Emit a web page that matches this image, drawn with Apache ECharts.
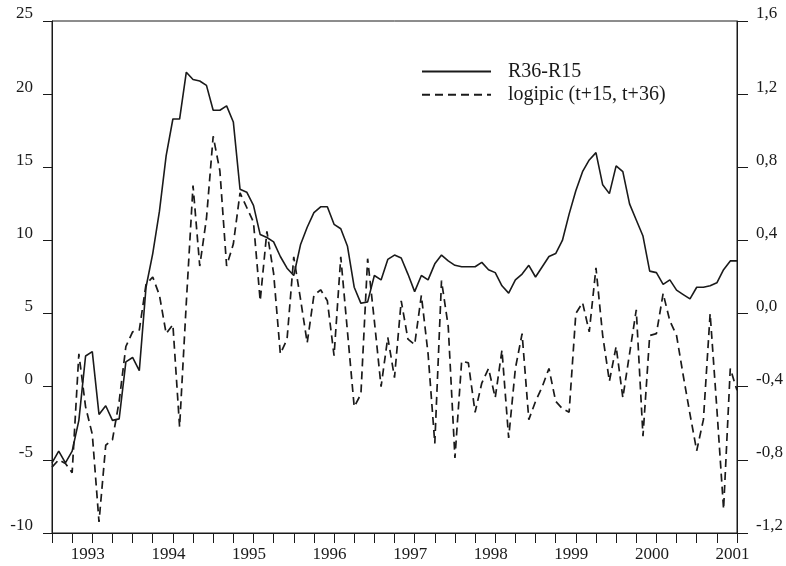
<!DOCTYPE html>
<html>
<head>
<meta charset="utf-8">
<script src="https://cdn.jsdelivr.net/npm/echarts@6/dist/echarts.min.js"></script>
<style>
html,body{margin:0;padding:0;background:#fff;}
#chart{width:786px;height:566px;}
</style>
</head>
<body>
<div id="chart"></div>
<script>
// Monthly observations 1992-07 .. 2001-01
var startYear = 1992, startMonth = 7, nMonths = 103;
var months = [];
for (var k = 0; k < nMonths; k++) {
  var m = startMonth - 1 + k;
  var y = startYear + Math.floor(m / 12);
  var mm = (m % 12) + 1;
  months.push(y + '-' + (mm < 10 ? '0' + mm : '' + mm));
}

// R36-R15 (left axis)
var r36r15 = [
  -5.2, -4.4, -5.2, -4.4, -2.3, 2.1, 2.4, -1.9, -1.3, -2.3,
  -2.2, 1.7, 2.0, 1.1, 6.8, 9.1, 12.0, 15.8, 18.3, 18.3,
  21.5, 21.0, 20.9, 20.6, 18.9, 18.9, 19.2, 18.1, 13.5, 13.3,
  12.4, 10.4, 10.2, 9.9, 8.9, 8.1, 7.6, 9.7, 10.9, 11.9,
  12.3, 12.3, 11.1, 10.8, 9.6, 6.8, 5.7, 5.8, 7.6, 7.3,
  8.7, 9.0, 8.8, 7.7, 6.5, 7.6, 7.3, 8.4, 9.0, 8.6,
  8.3, 8.2, 8.2, 8.2, 8.5, 8.0, 7.8, 6.9, 6.4, 7.3,
  7.7, 8.3, 7.5, 8.2, 8.9, 9.1, 10.0, 11.8, 13.4, 14.7,
  15.5, 16.0, 13.8, 13.2, 15.1, 14.7, 12.5, 11.4, 10.3, 7.9,
  7.8, 7.0, 7.3, 6.6, 6.3, 6.0, 6.8, 6.8, 6.9, 7.1,
  8.0, 8.6, 8.6
];

// logipic (t+15, t+36) (right axis)
var logipic = [
  -0.84, -0.80, -0.82, -0.87, -0.22, -0.51, -0.66, -1.14, -0.72, -0.69,
  -0.48, -0.18, -0.10, -0.09, 0.16, 0.20, 0.10, -0.11, -0.06, -0.62,
  0.06, 0.70, 0.26, 0.52, 0.97, 0.78, 0.26, 0.38, 0.66, 0.58,
  0.50, 0.07, 0.45, 0.22, -0.22, -0.14, 0.31, 0.08, -0.16, 0.10,
  0.13, 0.07, -0.23, 0.31, -0.10, -0.51, -0.44, 0.30, -0.04, -0.40,
  -0.13, -0.35, 0.07, -0.14, -0.17, 0.10, -0.22, -0.71, 0.18, -0.07,
  -0.79, -0.26, -0.27, -0.54, -0.38, -0.30, -0.46, -0.20, -0.68, -0.30,
  -0.11, -0.58, -0.48, -0.40, -0.30, -0.48, -0.52, -0.54, 0.00, 0.06,
  -0.10, 0.25, -0.12, -0.37, -0.18, -0.46, -0.22, 0.02, -0.67, -0.12,
  -0.11, 0.11, -0.04, -0.12, -0.34, -0.55, -0.75, -0.58, 0.00, -0.52,
  -1.07, -0.30, -0.42
];

var seriesNames = ['R36-R15', 'logipic (t+15, t+36)'];

var FONT = 'Liberation Serif';
var INK = '#1a1a1a';

var chart = echarts.init(document.getElementById('chart'), null, {renderer: 'canvas'});
chart.setOption({
  animation: false,
  backgroundColor: '#fff',
  grid: {left: 52, right: 49, top: 21, bottom: 33, show: true, borderColor: INK, borderWidth: 1, backgroundColor: 'transparent'},
  legend: {
    orient: 'vertical',
    left: 421,
    top: 61.5,
    padding: 0,
    itemWidth: 69,
    itemHeight: 14,
    itemGap: 3.3,
    selectedMode: false,
    data: seriesNames,
    itemStyle: {opacity: 0},
    textStyle: {fontFamily: FONT, fontSize: 20, color: INK, lineHeight: 20, padding: [0, 0, 0, 12]}
  },
  xAxis: {
    type: 'category',
    data: months,
    boundaryGap: false,
    axisLine: {onZero: false, lineStyle: {color: INK, width: 1}},
    axisTick: {
      length: 10,
      lineStyle: {color: INK},
      interval: function (i) { return i % 3 === 0; }
    },
    axisLabel: {
      interval: function (i, v) { return v.slice(5) === '01'; },
      formatter: function (v) { return v.slice(0, 4); },
      fontFamily: FONT, fontSize: 17, color: INK, margin: 13,
      padding: [0, 9, 0, 0]
    },
    splitLine: {show: false}
  },
  yAxis: [
    {
      type: 'value', min: -10, max: 25, interval: 5,
      axisLine: {show: true, onZero: false, lineStyle: {color: INK, width: 1}},
      axisTick: {show: true, length: 9, lineStyle: {color: INK}},
      axisLabel: {fontFamily: FONT, fontSize: 17, color: INK, margin: 19, verticalAlign: 'bottom', lineHeight: 14},
      splitLine: {show: false}
    },
    {
      type: 'value', min: -1.2, max: 1.6, interval: 0.4,
      position: 'right',
      axisLine: {show: true, onZero: false, lineStyle: {color: INK, width: 1}},
      axisTick: {show: true, length: 11, lineStyle: {color: INK}},
      axisLabel: {
        fontFamily: FONT, fontSize: 17, color: INK, margin: 19, verticalAlign: 'bottom', lineHeight: 14,
        formatter: function (v) { return (Math.round(v * 10) / 10).toFixed(1).replace('.', ','); }
      },
      splitLine: {show: false}
    }
  ],
  series: [
    {
      name: seriesNames[0], type: 'line', yAxisIndex: 0, data: r36r15,
      symbol: 'none', smooth: false,
      lineStyle: {color: INK, width: 1.6, type: 'solid'},
      itemStyle: {color: INK}
    },
    {
      name: seriesNames[1], type: 'line', yAxisIndex: 1, data: logipic,
      symbol: 'none', smooth: false,
      lineStyle: {color: INK, width: 1.7, type: [8, 5]},
      itemStyle: {color: INK}
    }
  ]
});
</script>
</body>
</html>
